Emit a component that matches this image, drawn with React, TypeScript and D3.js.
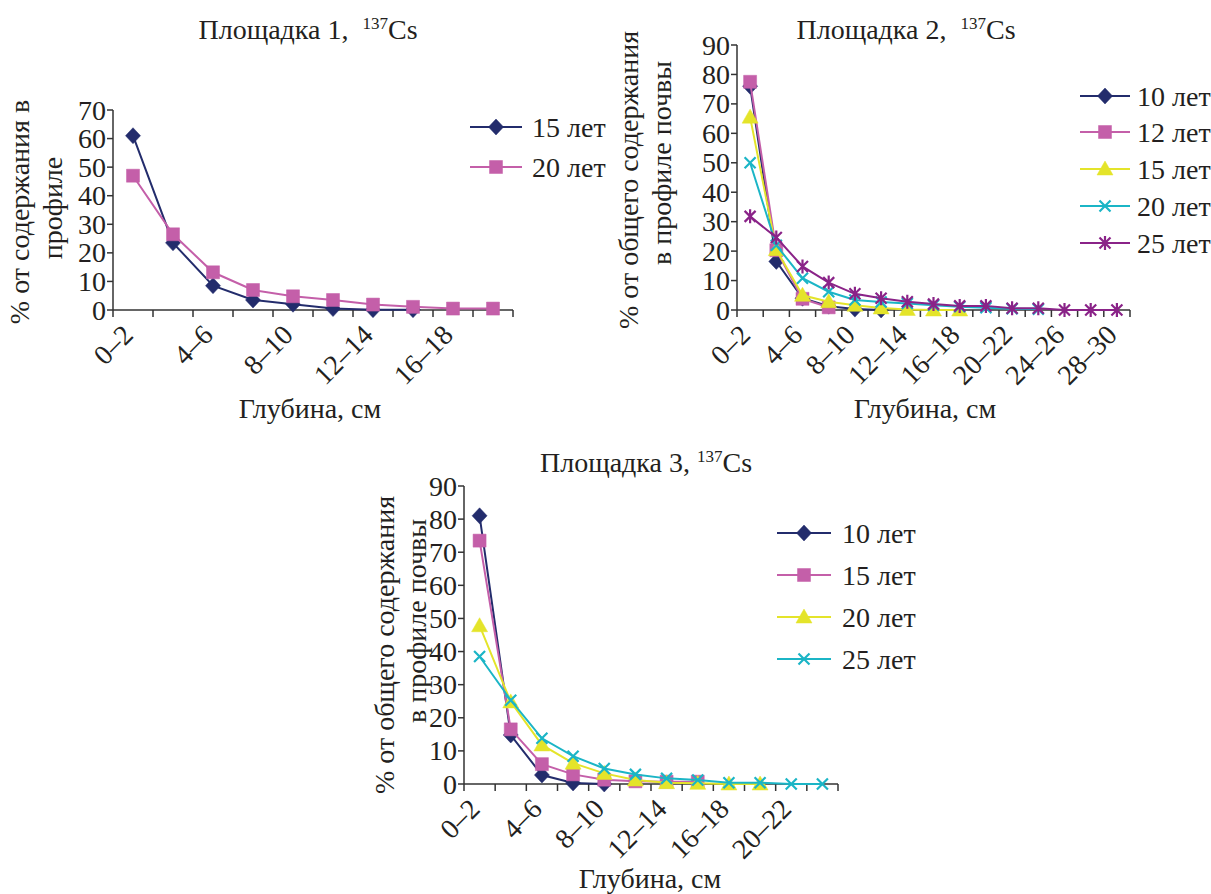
import React from "react";
import * as d3 from "d3";

// ---------- DATA ----------
const depthLabels = [
  "0–2", "2–4", "4–6", "6–8", "8–10", "10–12", "12–14", "14–16",
  "16–18", "18–20", "20–22", "22–24", "24–26", "26–28", "28–30",
];

// Площадка 1
const p1Years = ["15 лет", "20 лет"];
const p1Y15 = [61, 23.5, 8.5, 3.5, 2, 0.5, 0.1, 0.1];
const p1Y20 = [47, 26.5, 13.2, 7, 4.8, 3.5, 1.9, 1.1, 0.5, 0.5];

// Площадка 2
const p2Years = ["10 лет", "12 лет", "15 лет", "20 лет", "25 лет"];
const p2Y10 = [76, 16.5, 4, 1.3, 0.3, 0];
const p2Y12 = [77.5, 20.3, 3.8, 0.9];
const p2Y15 = [65.5, 20.5, 5, 2.8, 1.6, 0.7, 0.2, 0, 0];
const p2Y20 = [50, 22, 10.8, 6.2, 3.4, 2.7, 2.2, 1.6, 1.1, 0.8, 0.4, 0.3];
const p2Y25 = [31.8, 24.6, 14.8, 9.3, 5.5, 4, 2.8, 2, 1.4, 1.4, 0.6, 0.6, 0, 0, 0];

// Площадка 3
const p3Years = ["10 лет", "15 лет", "20 лет", "25 лет"];
const p3Y10 = [81, 14.8, 2.7, 0.3, 0];
const p3Y15 = [73.5, 16.5, 6, 2.9, 1.3, 0.8, 0.7, 0.7];
const p3Y20 = [47.8, 24.8, 11.8, 6.3, 3.2, 1.2, 0.4, 0.2, 0, 0];
const p3Y25 = [38.5, 25.3, 13.8, 8.4, 4.7, 2.9, 1.7, 1.2, 0.4, 0.4, 0, 0];

// ---------- STYLE ----------
const C_NAVY = "#232c6c";
const C_PINK = "#c45fa9";
const C_YELLOW = "#e4e42a";
const C_CYAN = "#1bb5c6";
const C_PURPLE = "#8a2388";
const TXT = "#231f20";
const FONT = "'Liberation Serif', 'Times New Roman', serif";
const FS = 28;

type Sym = "diamond" | "square" | "triangle" | "x" | "star";

function markerPath(t: Sym): string {
  switch (t) {
    case "diamond":
      return "M0,-8L7.5,0L0,8L-7.5,0Z";
    case "square":
      return "M-6.5,-6.5H6.5V6.5H-6.5Z";
    case "triangle":
      return "M0,-8L8,6L-8,6Z";
    case "x":
      return "M-5.5,-5.5L5.5,5.5M5.5,-5.5L-5.5,5.5";
    case "star":
      return "M-5.5,-5.5L5.5,5.5M5.5,-5.5L-5.5,5.5M0,-7V7";
  }
}

function Marker({ t, x, y, color }: { t: Sym; x: number; y: number; color: string }) {
  const stroked = t === "x" || t === "star";
  return (
    <path
      d={markerPath(t)}
      transform={`translate(${x},${y})`}
      fill={stroked ? "none" : color}
      stroke={color}
      strokeWidth={stroked ? 2.2 : 0.5}
    />
  );
}

type Series = { name: string; values: number[]; color: string; sym: Sym };

type PanelProps = {
  n: number;
  series: Series[];
  xLeft: number;
  xRight: number;
  yBottom: number;
  yTop: number;
  yMax: number;
  title: string;
  titleSpace: string;
  titleX: number;
  titleY: number;
  yLabel: string[];
  yLabelX: number[];
  yLabelCY: number[];
  xTitleX: number;
  xTitleY: number;
  legX1: number;
  legX2: number;
  legTextX: number;
  legY: number[];
};

function Panel(p: PanelProps) {
  const cats = depthLabels.slice(0, p.n);
  const x = d3.scaleBand<string>().domain(cats).range([p.xLeft, p.xRight]).padding(0);
  const y = d3.scaleLinear().domain([0, p.yMax]).range([p.yBottom, p.yTop]);
  const yTicks = d3.range(0, p.yMax + 1, 10);
  const bw = x.bandwidth();
  const cx = (i: number) => (x(cats[i]) as number) + bw / 2;
  const line = d3
    .line<number>()
    .x((_, i) => cx(i))
    .y((v) => y(v));

  return (
    <g>
      {/* title */}
      <text
        x={p.titleX}
        y={p.titleY}
        textAnchor="middle"
        fontFamily={FONT}
        fontSize={FS}
        fill={TXT}
        style={{ whiteSpace: "pre" }}
      >
        <tspan>{p.title + p.titleSpace}</tspan>
        <tspan dy={-10} fontSize={17}>137</tspan>
        <tspan dy={10}>Cs</tspan>
      </text>

      {/* y label */}
      {p.yLabel.map((s, i) => (
        <text
          key={i}
          transform={`translate(${p.yLabelX[i]},${p.yLabelCY[i]}) rotate(-90)`}
          textAnchor="middle"
          dominantBaseline="middle"
          fontFamily={FONT}
          fontSize={FS}
          fill={TXT}
        >
          {s}
        </text>
      ))}

      {/* y axis */}
      <line x1={p.xLeft} x2={p.xLeft} y1={p.yBottom} y2={p.yTop} stroke="#333" strokeWidth={1.5} />
      {yTicks.map((t) => (
        <g key={t}>
          <line x1={p.xLeft - 6} x2={p.xLeft} y1={y(t)} y2={y(t)} stroke="#333" strokeWidth={1.5} />
          <text
            x={p.xLeft - 7}
            y={y(t)}
            textAnchor="end"
            dominantBaseline="central"
            fontFamily={FONT}
            fontSize={FS}
            fill={TXT}
          >
            {t}
          </text>
        </g>
      ))}

      {/* x axis */}
      <line x1={p.xLeft} x2={p.xRight} y1={p.yBottom} y2={p.yBottom} stroke="#333" strokeWidth={1.5} />
      {cats.concat(["__end"]).map((c, i) => {
        const xx = i < cats.length ? (x(c) as number) : p.xRight;
        return (
          <line key={"t" + i} x1={xx} x2={xx} y1={p.yBottom} y2={p.yBottom + 7} stroke="#333" strokeWidth={1.5} />
        );
      })}
      {cats.map((c, i) =>
        i % 2 === 0 ? (
          <text
            key={"l" + i}
            transform={`translate(${cx(i) - 5},${p.yBottom + 20}) rotate(-45)`}
            textAnchor="end"
            dominantBaseline="central"
            fontFamily={FONT}
            fontSize={FS}
            fill={TXT}
          >
            {c}
          </text>
        ) : null
      )}
      <text
        x={p.xTitleX}
        y={p.xTitleY}
        textAnchor="middle"
        fontFamily={FONT}
        fontSize={FS}
        fill={TXT}
      >
        Глубина, см
      </text>

      {/* series */}
      {p.series.map((s) => (
        <g key={s.name}>
          <path d={line(s.values) as string} fill="none" stroke={s.color} strokeWidth={2} />
          {s.values.map((v, i) => (
            <Marker key={i} t={s.sym} x={cx(i)} y={y(v)} color={s.color} />
          ))}
        </g>
      ))}

      {/* legend */}
      {p.series.map((s, i) => (
        <g key={"leg" + i}>
          <line x1={p.legX1} x2={p.legX2} y1={p.legY[i]} y2={p.legY[i]} stroke={s.color} strokeWidth={2} />
          <Marker t={s.sym} x={(p.legX1 + p.legX2) / 2} y={p.legY[i]} color={s.color} />
          <text
            x={p.legTextX}
            y={p.legY[i]}
            dominantBaseline="central"
            fontFamily={FONT}
            fontSize={FS}
            fill={TXT}
          >
            {s.name}
          </text>
        </g>
      ))}
    </g>
  );
}

export default function App() {
  const s1: Series[] = [
    { name: p1Years[0], values: p1Y15, color: C_NAVY, sym: "diamond" },
    { name: p1Years[1], values: p1Y20, color: C_PINK, sym: "square" },
  ];
  const s2: Series[] = [
    { name: p2Years[0], values: p2Y10, color: C_NAVY, sym: "diamond" },
    { name: p2Years[1], values: p2Y12, color: C_PINK, sym: "square" },
    { name: p2Years[2], values: p2Y15, color: C_YELLOW, sym: "triangle" },
    { name: p2Years[3], values: p2Y20, color: C_CYAN, sym: "x" },
    { name: p2Years[4], values: p2Y25, color: C_PURPLE, sym: "star" },
  ];
  const s3: Series[] = [
    { name: p3Years[0], values: p3Y10, color: C_NAVY, sym: "diamond" },
    { name: p3Years[1], values: p3Y15, color: C_PINK, sym: "square" },
    { name: p3Years[2], values: p3Y20, color: C_YELLOW, sym: "triangle" },
    { name: p3Years[3], values: p3Y25, color: C_CYAN, sym: "x" },
  ];

  return (
    <svg width={1211} height={894} style={{ position: "absolute", left: 0, top: 0, background: "#fff" }}>
      <rect width={1211} height={894} fill="#fff" />
      <Panel
        n={10}
        series={s1}
        xLeft={113}
        xRight={513}
        yBottom={310}
        yTop={110}
        yMax={70}
        title="Площадка 1,"
        titleSpace="  "
        titleX={308}
        titleY={39}
        yLabel={["% от содержания в", "профиле"]}
        yLabelX={[23, 56]}
        yLabelCY={[212, 208]}
        xTitleX={310}
        xTitleY={418}
        legX1={470}
        legX2={522}
        legTextX={532}
        legY={[127, 167]}
      />
      <Panel
        n={15}
        series={s2}
        xLeft={737}
        xRight={1130}
        yBottom={310}
        yTop={45}
        yMax={90}
        title="Площадка 2,"
        titleSpace="  "
        titleX={906}
        titleY={39}
        yLabel={["% от общего содержания", "в профиле почвы"]}
        yLabelX={[632, 665]}
        yLabelCY={[180, 163]}
        xTitleX={925}
        xTitleY={418}
        legX1={1080}
        legX2={1130}
        legTextX={1137}
        legY={[96, 132, 169, 206, 243]}
      />
      <Panel
        n={12}
        series={s3}
        xLeft={464}
        xRight={838}
        yBottom={784}
        yTop={486}
        yMax={90}
        title="Площадка 3,"
        titleSpace=" "
        titleX={646}
        titleY={472}
        yLabel={["% от общего содержания", "в профиле почвы"]}
        yLabelX={[388, 420]}
        yLabelCY={[645, 621]}
        xTitleX={650}
        xTitleY={888}
        legX1={777}
        legX2={831}
        legTextX={842}
        legY={[533, 575, 617, 659]}
      />
    </svg>
  );
}
